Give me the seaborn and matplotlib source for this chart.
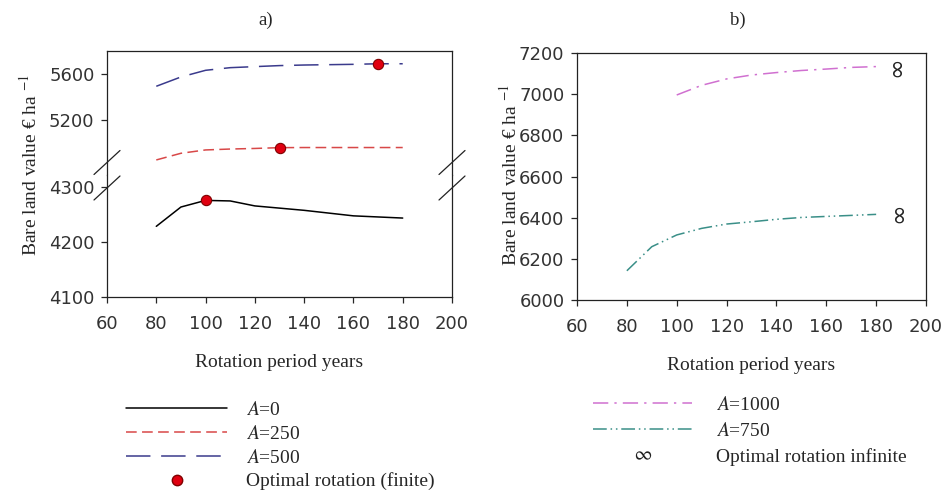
import seaborn as sns
import matplotlib.pyplot as plt
import numpy as np
import pandas as pd
from matplotlib.lines import Line2D

# ---- data ----
rotation = [80, 90, 100, 110, 120, 130, 140, 150, 160, 170, 180]
a0 = [4228, 4263, 4275, 4274, 4265, 4261, 4257, 4252, 4247, 4245, 4243]
a250 = [4855, 4913, 4942, 4950, 4955, 4962, 4963, 4963, 4963, 4963, 4963]
a500 = [5496, 5577, 5635, 5658, 5667, 5676, 5681, 5684, 5687, 5692, 5692]
opt_x = [100, 130, 170]
opt_y = [4275, 4962, 5692]

rotation_1000 = [100, 110, 120, 130, 140, 150, 160, 170, 180]
a1000 = [6996, 7043, 7074, 7093, 7105, 7115, 7122, 7130, 7134]
a750 = [6142, 6259, 6316, 6348, 6369, 6380, 6392, 6401, 6406, 6411, 6416]
inf_x = [188, 189]
inf_y = [7134, 6424]

xticks = [60, 80, 100, 120, 140, 160, 180, 200]
yticks_top = [5200, 5600]
yticks_bot = [4100, 4200, 4300]
yticks_b = [6000, 6200, 6400, 6600, 6800, 7000, 7200]

sns.set_style('ticks')
plt.rcParams['font.family'] = ['DejaVu Sans']
plt.rcParams['mathtext.fontset'] = 'stix'
s_serif = 'Liberation Serif'
c_tick = '#333333'

W, H = 942, 492
def f_rect(x0, y0, x1, y1):
    return [x0 / W, 1 - y1 / H, (x1 - x0) / W, (y1 - y0) / H]

fig = plt.figure(figsize=(W / 100, H / 100), dpi=100)
ax_top = fig.add_axes(f_rect(107, 51, 452, 175))
ax_bot = fig.add_axes(f_rect(107, 175, 452, 297))
ax_b = fig.add_axes(f_rect(577, 53, 926, 300))

dic_style = {
    'A=0': dict(color='black', linestyle='-'),
    'A=250': dict(color='#d84848', linestyle=(0, (7, 3.5))),
    'A=500': dict(color='#3a3a8c', linestyle=(0, (16, 7))),
    'A=1000': dict(color='#d070d0', linestyle=(0, (10, 4, 1.5, 4))),
    'A=750': dict(color='#3a8f88', linestyle=(0, (9, 2.5, 1, 2.5, 1, 2.5))),
}

def f_styleAx(ax):
    ax.set_xlim(60, 200)
    ax.set_xticks(xticks)
    ax.tick_params(labelsize=13, labelcolor=c_tick, length=4, width=0.9, pad=5)
    ax.tick_params(axis='x', pad=9)
    for sp in ax.spines.values():
        sp.set_visible(True)
        sp.set_linewidth(0.9)
        sp.set_color('#222222')

# left panel: same lines on both halves, clipping hides what is out of range
for ax in (ax_top, ax_bot):
    sns.lineplot(x=rotation, y=a0, ax=ax, lw=1.1, **dic_style['A=0'])
    sns.lineplot(x=rotation, y=a250, ax=ax, lw=1.1, **dic_style['A=250'])
    sns.lineplot(x=rotation, y=a500, ax=ax, lw=1.1, **dic_style['A=500'])
    sns.scatterplot(x=opt_x, y=opt_y, ax=ax, s=55, color='#e00010',
                    edgecolor='#800000', linewidth=0.8, zorder=5)
    f_styleAx(ax)

ax_top.set_ylim(4724, 5803)
ax_top.set_yticks(yticks_top)
ax_top.spines['bottom'].set_visible(False)
ax_top.tick_params(axis='x', bottom=False, labelbottom=False)
ax_bot.set_ylim(4100, 4321)
ax_bot.set_yticks(yticks_bot)
ax_bot.spines['top'].set_visible(False)
ax_bot.set_xlabel('Rotation period years', family=s_serif, fontsize=14, labelpad=15)

# break marks across both vertical spines
for x_sp in (107, 452):
    for y_c in (162.5, 188):
        fig.add_artist(Line2D([(x_sp - 13) / W, (x_sp + 13) / W],
                              [1 - (y_c + 12) / H, 1 - (y_c - 12) / H],
                              transform=fig.transFigure, color='#222222', lw=0.9))

# right panel
sns.lineplot(x=rotation_1000, y=a1000, ax=ax_b, lw=1.1, **dic_style['A=1000'])
sns.lineplot(x=rotation, y=a750, ax=ax_b, lw=1.1, **dic_style['A=750'])
for x, y in zip(inf_x, inf_y):
    ax_b.text(x, y, '∞', rotation=90, ha='center', va='center', fontsize=18,
              color='#222222')
ax_b.set_ylim(6000, 7200)
ax_b.set_yticks(yticks_b)
f_styleAx(ax_b)
ax_b.set_xlabel('Rotation period years', family=s_serif, fontsize=14, labelpad=15)

s_ylab = r'Bare land value € ha $^{-1}$'
fig.text(30 / W, 1 - 165 / H, s_ylab, rotation=90, ha='center', va='center',
         family=s_serif, fontsize=14)
fig.text(510 / W, 1 - 175 / H, s_ylab, rotation=90, ha='center', va='center',
         family=s_serif, fontsize=14)
fig.text(266 / W, 1 - 20 / H, 'a)', ha='center', va='center', family=s_serif, fontsize=13.5)
fig.text(738 / W, 1 - 20 / H, 'b)', ha='center', va='center', family=s_serif, fontsize=13.5)

# legends
ls_hand_a = [Line2D([], [], lw=1.1, **dic_style['A=0']),
             Line2D([], [], lw=1.1, **dic_style['A=250']),
             Line2D([], [], lw=1.1, **dic_style['A=500']),
             Line2D([], [], marker='o', linestyle='none', markersize=7.5,
                    markerfacecolor='#e00010', markeredgecolor='#800000')]
ls_lab_a = ['$A$=0', '$A$=250', '$A$=500', 'Optimal rotation (finite)']
fig.legend(ls_hand_a, ls_lab_a, loc='upper left', bbox_to_anchor=(126 / W, 1 - 401 / H),
           frameon=False, prop={'family': s_serif, 'size': 14}, handlelength=5.2,
           handletextpad=0.95, labelspacing=0.3, borderpad=0, borderaxespad=0)

ls_hand_b = [Line2D([], [], lw=1.1, **dic_style['A=1000']),
             Line2D([], [], lw=1.1, **dic_style['A=750']),
             Line2D([], [], marker=r'$\infty$', linestyle='none', markersize=11,
                    color='#222222', markeredgewidth=0)]
ls_lab_b = ['$A$=1000', '$A$=750', 'Optimal rotation infinite']
fig.legend(ls_hand_b, ls_lab_b, loc='upper left', bbox_to_anchor=(593 / W, 1 - 396 / H),
           frameon=False, prop={'family': s_serif, 'size': 14}, handlelength=5.1,
           handletextpad=1.2, labelspacing=0.42, borderpad=0, borderaxespad=0)

plt.savefig('out.png', dpi=100)
